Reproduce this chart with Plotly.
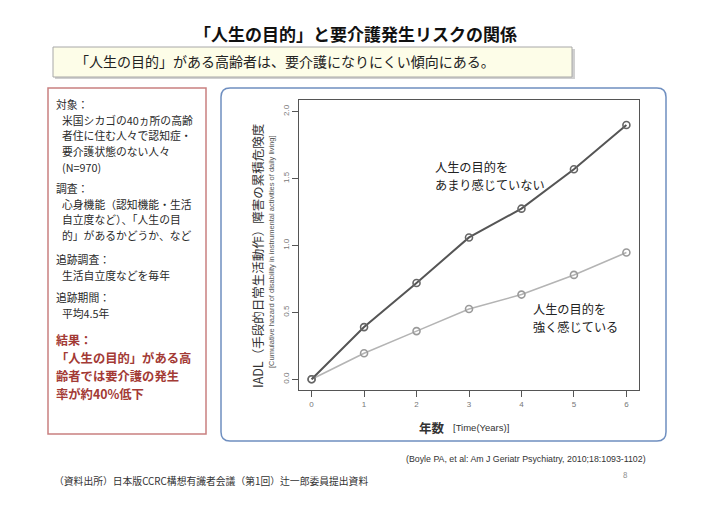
import plotly.graph_objects as go

# ---- data ----
years = [0, 1, 2, 3, 4, 5, 6]
low_purpose = [0.0, 0.39, 0.72, 1.06, 1.275, 1.57, 1.90]     # 人生の目的をあまり感じていない
high_purpose = [0.0, 0.195, 0.36, 0.525, 0.633, 0.78, 0.947]  # 人生の目的を強く感じている
y_ticks = [0.0, 0.5, 1.0, 1.5, 2.0]
y_tick_labels = ["0.0", "0.5", "1.0", "1.5", "2.0"]

title = "「人生の目的」と要介護発生リスクの関係"
summary = "「人生の目的」がある高齢者は、要介護になりにくい傾向にある。"
left_groups = [
    ("対象：", ["米国シカゴの40ヵ所の高齢", "者住に住む人々で認知症・", "要介護状態のない人々", "(N=970)"]),
    ("調査：", ["心身機能（認知機能・生活", "自立度など）、「人生の目", "的」があるかどうか、など"]),
    ("追跡調査：", ["生活自立度などを毎年"]),
    ("追跡期間：", ["平均4.5年"]),
]
group_top = [104, 188, 259, 297]
result_head = "結果："
result_lines = ["「人生の目的」がある高", "齢者では要介護の発生", "率が約40%低下"]
label_low = ["人生の目的を", "あまり感じていない"]
label_high = ["人生の目的を", "強く感じている"]

# ---- pixel geometry helpers ----
L, R, T, B = 299, 639, 100, 390
W, H = R - L, B - T
def px(x): return (x - L) / W
def py(y): return (B - y) / H

FONT = "Noto Sans CJK JP"

fig = go.Figure()
fig.add_trace(go.Scatter(x=years, y=high_purpose, mode="lines+markers",
                         line=dict(color="#b4b4b4", width=1.6),
                         marker=dict(symbol="circle-open", size=7, color="#9a9a9a", line=dict(width=1.6)),
                         showlegend=False))
fig.add_trace(go.Scatter(x=years, y=low_purpose, mode="lines+markers",
                         line=dict(color="#555555", width=2),
                         marker=dict(symbol="circle-open", size=7, color="#666666", line=dict(width=1.6)),
                         showlegend=False))

def rounded(x0, y0, x1, y1, r):
    rx, ry = r / W, r / H
    X0, X1, Y0, Y1 = px(x0), px(x1), py(y0), py(y1)
    return (f"M {X0+rx},{Y0} L {X1-rx},{Y0} Q {X1},{Y0} {X1},{Y0-ry} "
            f"L {X1},{Y1+ry} Q {X1},{Y1} {X1-rx},{Y1} L {X0+rx},{Y1} "
            f"Q {X0},{Y1} {X0},{Y1+ry} L {X0},{Y0-ry} Q {X0},{Y0} {X0+rx},{Y0} Z")

shapes = [
    dict(type="rect", xref="paper", yref="paper", x0=px(55), x1=px(575), y0=py(79), y1=py(49),
         line=dict(width=0), fillcolor="#d0d0d0", layer="below"),
    dict(type="rect", xref="paper", yref="paper", x0=px(53), x1=px(572), y0=py(77), y1=py(47),
         line=dict(color="#a8a8a8", width=1), fillcolor="#fdfde8", layer="below"),
    dict(type="rect", xref="paper", yref="paper", x0=px(48), x1=px(206), y0=py(434), y1=py(88),
         line=dict(color="#c98080", width=1.5), fillcolor="rgba(0,0,0,0)", layer="below"),
    dict(type="path", xref="paper", yref="paper", path=rounded(221, 88, 666, 441, 9),
         line=dict(color="#6f8fc0", width=1.5), fillcolor="rgba(0,0,0,0)", layer="below"),
]

ann = []
def text(x, y, s, size, color="#222222", bold=False, xanchor="left", angle=0, family=FONT):
    ann.append(dict(xref="paper", yref="paper", x=px(x), y=py(y), text=(f"<b>{s}</b>" if bold else s),
                    showarrow=False, xanchor=xanchor, yanchor="middle", textangle=angle, align="left",
                    font=dict(size=size, color=color, family=family)))

text(355, 33, title, 17, color="#111111", bold=True, xanchor="center")
text(73, 61, summary, 14, color="#222222")

# left panel: one annotation per line, spaced so that glyph boxes do not overlap
fs, step = 10.8, 15.7
for (head, body), top in zip(left_groups, group_top):
    text(54, top, head, fs, color="#2a2a2a")
    for i, line in enumerate(body):
        text(60, top + step * (i + 1), line, fs, color="#2a2a2a")
text(54, 339, result_head, 12, color="#a33a35", bold=True)
rs, rstep = 12.3, 17.9
for i, line in enumerate(result_lines):
    text(54, 358 + rstep * i, line, rs, color="#a33a35", bold=True)

# y-axis titles
text(257, 256, "IADL（手段的日常生活動作）障害の累積危険度", 12.5, color="#333333", xanchor="center", angle=-90)
text(272, 252, "[Cumulative hazard of disability in instrumental activities of daily living]", 7.5,
     color="#555555", xanchor="center", angle=-90, family="Liberation Sans")
# x-axis titles
text(417, 427, "年数", 12.5, color="#333333", bold=True)
text(451, 427, "[Time(Years)]", 9.5, color="#333333", family="Liberation Sans")
# series labels
ls, lstep = 12.2, 17.7
for i, line in enumerate(label_low):
    text(433, 167 + lstep * i, line, ls, color="#222222")
for i, line in enumerate(label_high):
    text(531, 309 + lstep * i, line, ls, color="#222222")
# footers
text(648, 459, "(Boyle PA, et al: Am J Geriatr Psychiatry, 2010;18:1093-1102)", 8.8,
     color="#333333", xanchor="right", family="Liberation Sans")
text(52, 481, "（資料出所）日本版CCRC構想有識者会議（第1回）辻一郎委員提出資料", 9.8, color="#333333")
text(625, 474, "8", 8, color="#888888", xanchor="center")

fig.update_layout(
    width=711, height=510, margin=dict(l=L, r=711 - R, t=T, b=510 - B, pad=0),
    paper_bgcolor="white", plot_bgcolor="white",
    shapes=shapes, annotations=ann, showlegend=False,
    xaxis=dict(range=[-0.24, 6.24], tickvals=years, ticktext=[str(v) for v in years],
               showgrid=False, zeroline=False, showline=True, mirror=True, linecolor="#555555",
               linewidth=1, ticks="outside", ticklen=6, tickcolor="#555555",
               tickfont=dict(size=8, color="#777777", family="Liberation Sans"), automargin=False),
    yaxis=dict(range=[-0.08, 2.087], tickvals=y_ticks, ticktext=y_tick_labels,
               showgrid=False, zeroline=False, showline=True, mirror=True, linecolor="#555555",
               linewidth=1, ticks="outside", ticklen=6, tickcolor="#555555", tickangle=-90,
               tickfont=dict(size=8, color="#777777", family="Liberation Sans"), automargin=False),
)
fig.write_html("out.html")
